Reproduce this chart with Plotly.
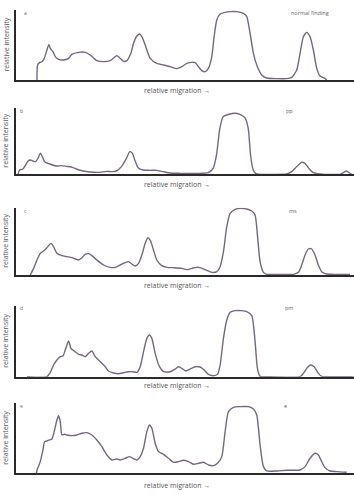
import plotly.graph_objects as go

# ---- data (relative migration, relative intensity) ----
a_x = [110,112,118,125,132,140,146,150,158,165,175,190,205,215,235,255,270,290,310,330,345,350,358,370,380,392,400,410,418,425,435,450,470,490,510,530,545,560,575,585,595,605,615,625,635,642,650,660,675,690,710,730,740,750,760,770,785,800,830,860,875,890,900,910,920,930,940,950,960,975,980]
a_yr = [240,195,188,185,175,150,133,145,155,170,178,180,175,163,157,157,165,182,185,182,170,167,173,184,182,160,130,108,102,110,135,175,190,195,200,206,200,190,187,188,200,212,215,205,170,110,60,42,37,35,35,40,50,100,160,195,225,234,236,236,232,210,160,110,97,110,150,205,228,235,240]
a_base = 240

b_x = [55,60,70,78,85,92,100,108,115,122,128,135,150,170,185,200,215,230,250,270,300,320,335,350,365,380,390,398,405,415,430,450,470,490,510,540,600,625,640,650,660,670,690,705,720,735,745,752,760,770,800,860,875,890,905,915,925,940,960,975,1000,1020,1030,1040,1048,1055]
b_yr = [237,225,222,210,198,195,198,200,190,175,185,200,207,213,212,214,216,222,228,231,232,229,230,228,215,190,170,175,195,218,225,226,226,230,234,235,235,233,220,180,100,65,57,55,58,68,100,180,225,237,238,237,230,215,202,205,218,233,237,238,238,238,233,228,234,238]
b_base = 237

c_x = [90,100,110,120,130,140,152,160,170,185,200,215,225,235,245,255,265,275,290,310,330,345,360,375,385,395,405,415,425,435,443,450,460,470,485,500,520,545,560,575,590,600,620,635,650,660,670,680,690,705,720,740,755,765,772,780,790,800,850,880,895,905,915,925,935,945,955,965,980,1000,1050]
c_yr = [240,220,195,175,168,158,145,155,175,182,185,188,192,195,188,178,176,182,195,210,217,217,210,203,200,207,213,205,180,145,128,135,165,195,212,217,218,220,224,220,217,218,226,232,230,215,170,95,55,43,40,42,48,60,120,200,232,238,238,238,232,210,180,162,162,180,210,230,237,238,238]
c_base = 240

d_x = [80,140,150,160,170,180,188,195,205,212,222,235,245,255,265,275,285,300,315,325,340,355,370,385,398,410,420,430,440,448,455,465,478,490,510,525,535,545,558,570,585,600,612,625,640,652,660,670,680,690,705,725,740,755,765,772,780,800,900,910,920,932,942,955,965,1000,1060]
d_yr = [245,245,232,210,195,185,183,165,138,160,168,178,180,185,175,168,185,200,215,228,234,236,233,230,230,232,215,170,130,120,130,175,215,230,230,222,215,220,228,222,215,216,225,238,242,238,210,130,75,52,47,47,50,62,140,220,244,245,245,235,220,210,215,235,244,245,245]
d_base = 245

e_x = [108,112,120,128,133,140,148,155,163,170,175,180,185,192,200,215,230,245,260,275,290,305,320,335,350,360,375,388,398,410,420,430,440,448,455,465,475,490,505,520,535,550,565,580,595,610,625,640,652,665,675,685,700,720,745,760,770,780,790,800,830,860,900,915,930,945,955,965,975,990,1010,1040]
e_yr = [235,220,200,165,140,138,135,132,105,75,62,80,120,118,120,122,120,115,113,120,135,155,180,195,192,195,190,185,190,195,185,160,110,90,100,145,170,178,190,202,200,196,200,208,205,202,210,212,205,185,110,50,37,35,35,42,60,150,215,228,228,226,225,215,190,175,180,200,218,228,230,232]
e_base = 235

panel_letters = ["a", "b", "c", "d", "e"]
panel_names = ["normal finding", "pp", "ms", "pm", "e"]
x_title = "relative migration \u2192"
y_title = "relative intensity"

panels = [
    (a_x, a_yr, a_base, 30, 48),
    (b_x, b_yr, b_base, 40, 50),
    (c_x, c_yr, c_base, 38, 48),
    (d_x, d_yr, d_base, 33, 48),
    (e_x, e_yr, e_base, 25, 48),
]

W, H = 354, 494
# pixel positions: (axis top, axis bottom, label y, panel-letter y, letter x, name x)
geom = [
    (10.0, 80.0, 90.0, 12.5, 25, 310),
    (108.3, 174.0, 184.5, 110.5, 21, 289),
    (207.7, 275.0, 285.5, 210.5, 25, 293),
    (306.0, 376.7, 385.5, 307.5, 21, 289),
    (403.3, 473.3, 485.5, 405.5, 21, 285),
]

fig = go.Figure()
annotations = []
line_col = "#74677f"
axis_col = "#2a2a2a"
txt_col = "#555555"

for i, ((xs, yr, base, top, xleft), g) in enumerate(zip(panels, geom)):
    ys = [base - v for v in yr]
    n = "" if i == 0 else str(i + 1)
    fig.add_trace(go.Scatter(x=xs, y=ys, mode="lines",
                             line=dict(color=line_col, width=1.4, shape="spline", smoothing=0.6),
                             xaxis="x" + n, yaxis="y" + n, showlegend=False, hoverinfo="skip"))
    t, b, ly, lety, letx, namex = g
    dom_y = [1 - b / H, 1 - t / H]
    fig.update_layout(**{
        "xaxis" + n: dict(domain=[16.3 / W, 1.0], range=[xleft, 1062], showline=True,
                          linecolor=axis_col, linewidth=1.5, showgrid=False, zeroline=False,
                          showticklabels=False, ticks="", anchor="y" + n, fixedrange=True),
        "yaxis" + n: dict(domain=dom_y, range=[0, base - top], showline=True,
                          linecolor=axis_col, linewidth=1.5, showgrid=False, zeroline=False,
                          showticklabels=False, ticks="", anchor="x" + n, fixedrange=True),
    })
    common = dict(xref="paper", yref="paper", showarrow=False,
                  xanchor="center", yanchor="middle")
    annotations.append(dict(x=177 / W, y=1 - ly / H, text=x_title,
                            font=dict(size=7, color=txt_col, family="Open Sans"), **common))
    annotations.append(dict(x=5.5 / W, y=1 - (t + b) / 2 / H, text=y_title, textangle=-90,
                            font=dict(size=7, color=txt_col, family="Open Sans"), **common))
    annotations.append(dict(x=letx / W, y=1 - lety / H, text=panel_letters[i],
                            font=dict(size=5, color="#666666", family="Open Sans"), **common))
    annotations.append(dict(x=namex / W, y=1 - lety / H, text=panel_names[i],
                            font=dict(size=5.5, color="#666666", family="Open Sans"), **common))

fig.update_layout(width=W, height=H, margin=dict(l=0, r=0, t=0, b=0),
                  paper_bgcolor="white", plot_bgcolor="white",
                  annotations=annotations)

fig.write_html("out.html")
